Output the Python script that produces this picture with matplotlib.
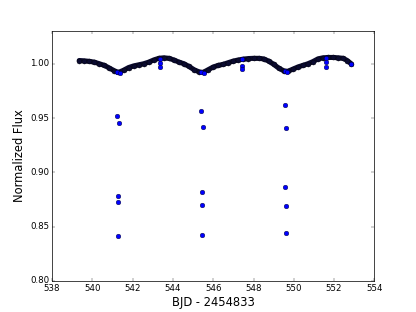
import matplotlib
matplotlib.use("Agg")
import matplotlib.pyplot as plt

plt.style.use("classic")

# Out-of-transit light curve (dense)
curve_t = [539.35, 539.6, 539.85, 540.1, 540.35, 540.6, 540.85, 541.1, 541.3, 541.55,
           541.8, 542.05, 542.3, 542.55, 542.8, 543.05, 543.3, 543.55, 543.8, 544.05,
           544.3, 544.55, 544.8, 545.05, 545.3, 545.5, 545.75, 546.0, 546.25, 546.5,
           546.75, 547.0, 547.25, 547.5, 547.75, 548.0, 548.25, 548.5, 548.75, 549.0,
           549.25, 549.5, 549.7, 549.95, 550.2, 550.45, 550.7, 550.95, 551.2, 551.45,
           551.7, 551.95, 552.2, 552.45, 552.65, 552.85]
curve_f = [1.0030, 1.0027, 1.0022, 1.0015, 1.0000, 0.9985, 0.9960, 0.9935, 0.9920, 0.9940,
           0.9965, 0.9980, 0.9990, 1.0000, 1.0015, 1.0035, 1.0050, 1.0055, 1.0050, 1.0035,
           1.0015, 1.0000, 0.9975, 0.9945, 0.9925, 0.9920, 0.9945, 0.9970, 0.9985, 0.9995,
           1.0010, 1.0025, 1.0035, 1.0043, 1.0048, 1.0050, 1.0050, 1.0045, 1.0025, 0.9995,
           0.9960, 0.9935, 0.9930, 0.9950, 0.9970, 0.9985, 1.0000, 1.0020, 1.0045, 1.0055,
           1.0058, 1.0058, 1.0055, 1.0050, 1.0030, 1.0000]

# Individual points (transit points and small dips)
pts_t = [541.22, 541.35, 545.40, 545.52, 549.55, 549.65,
         543.35, 543.35, 543.35, 547.45, 547.45, 547.45, 551.60, 551.60, 551.60,
         541.23, 541.32, 541.27, 541.30, 541.29,
         545.38, 545.47, 545.42, 545.45, 545.44,
         549.55, 549.62, 549.57, 549.60, 549.59,
         552.85]
pts_f = [0.9925, 0.9915, 0.9925, 0.9918, 0.9935, 0.9920,
         1.0043, 1.0003, 0.9970, 1.0043, 0.9980, 0.9950, 1.0053, 1.0012, 0.9972,
         0.9518, 0.9450, 0.8777, 0.8722, 0.8415,
         0.9564, 0.9420, 0.8818, 0.8703, 0.8421,
         0.9622, 0.9404, 0.8866, 0.8691, 0.8436,
         0.9998]

fig = plt.figure(figsize=(8, 6), dpi=52, facecolor="white")
ax = fig.add_subplot(111)

ax.plot(curve_t, curve_f, "-", color="#0a0a30", lw=7, solid_capstyle="round", zorder=2)
ax.plot(curve_t, curve_f, "o", color="#0a0a30", mec="black", ms=7, zorder=3)
ax.plot(pts_t, pts_f, "o", color="blue", mec="black", ms=6.5, zorder=4)

ax.set_xlim(538, 554)
ax.set_ylim(0.80, 1.03)
ax.set_xticks(range(538, 555, 2))
ax.set_yticks([0.80, 0.85, 0.90, 0.95, 1.00])
ax.set_yticklabels(["0.80", "0.85", "0.90", "0.95", "1.00"])
ax.set_xlabel("BJD - 2454833", fontsize=16)
ax.set_ylabel("Normalized Flux", fontsize=16)

fig.savefig("out.png", dpi=52, facecolor="white")
